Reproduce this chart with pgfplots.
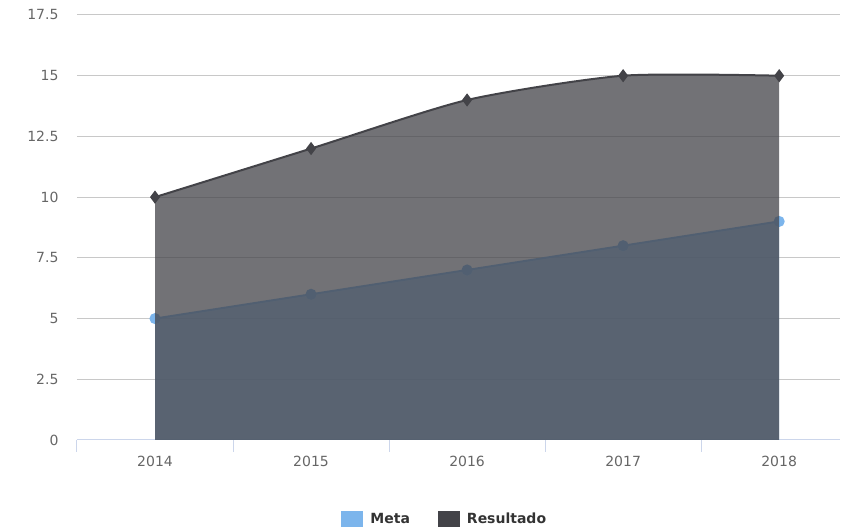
\documentclass[border=0pt]{standalone}
\usepackage{pgfplots}
\pgfplotsset{compat=1.18}
\usepackage{fontspec}
\setmainfont{DejaVu Sans}

\definecolor{meta}{HTML}{7CB5EC}
\definecolor{resultado}{HTML}{434348}
\definecolor{gridc}{HTML}{C8C8C8}
\definecolor{axisc}{HTML}{CCD6EB}
\definecolor{ticklbl}{HTML}{666666}
\definecolor{legtxt}{HTML}{333333}

\begin{document}
\begin{tikzpicture}
\path[use as bounding box] (-77pt,-92pt) rectangle (764pt,440pt);
\begin{axis}[
    scale only axis,
    width=763pt, height=425pt,
    at={(0pt,0pt)}, anchor=south west,
    clip mode=individual,
    xmin=-0.5, xmax=4.39,
    ymin=0, ymax=17.5,
    xtick={0,1,2,3,4},
    xticklabels={2014,2015,2016,2017,2018},
    ytick={0,2.5,5,7.5,10,12.5,15,17.5},
    /pgf/number format/.cd, fixed, precision=1, assume math mode=true, /pgfplots/.cd,
    axis x line*=bottom,
    axis y line*=left,
    x axis line style={draw=axisc, line width=1pt},
    y axis line style={draw=none},
    xtick style={draw=none},
    ytick style={draw=none},
    extra x ticks={-0.5,0.5,1.5,2.5,3.5},
    extra x tick labels={},
    extra x tick style={xtick style={draw=axisc, line width=1pt}, tick align=outside, major tick length=12pt},
    ymajorgrids=true,
    grid style={draw=gridc, line width=1pt},
    tick label style={font=\fontsize{14}{16}\selectfont, text=ticklbl},
    yticklabel style={xshift=-15pt},
    xticklabel style={yshift=-13pt},
    legend style={at={(axis description cs:0.482,-0.186)}, anchor=center,
        draw=none, fill=none, legend columns=2,
        font=\bfseries\fontsize{14}{16}\selectfont, text=legtxt,
        /tikz/every odd column/.append style={column sep=5pt},
        /tikz/every even column/.append style={column sep=26pt}},
    legend image code/.code={\fill[#1] (0pt,-8pt) rectangle (22pt,8pt);},
]
% Meta
\addplot[draw=none, fill=meta, fill opacity=0.75, forget plot]
    coordinates {(0,5)(1,6)(2,7)(3,8)(4,9)} \closedcycle;
\addplot[draw=meta, line width=2pt, mark=*, mark size=4.5pt,
    mark options={fill=meta, draw=none}, forget plot]
    coordinates {(0,5)(1,6)(2,7)(3,8)(4,9)};
% Resultado
\addplot[smooth, tension=0.4, draw=none, fill=resultado, fill opacity=0.75, forget plot]
    coordinates {(0,10)(1,12)(2,14)(3,15)(4,15)} \closedcycle;
\addplot[smooth, tension=0.4, draw=resultado, line width=2pt, mark=diamond*, mark size=5pt,
    mark options={fill=resultado, draw=none}, forget plot]
    coordinates {(0,10)(1,12)(2,14)(3,15)(4,15)};

\addlegendimage{fill=meta, draw=none}
\addlegendentry{Meta}
\addlegendimage{fill=resultado, draw=none}
\addlegendentry{Resultado}
\end{axis}
\end{tikzpicture}
\end{document}
